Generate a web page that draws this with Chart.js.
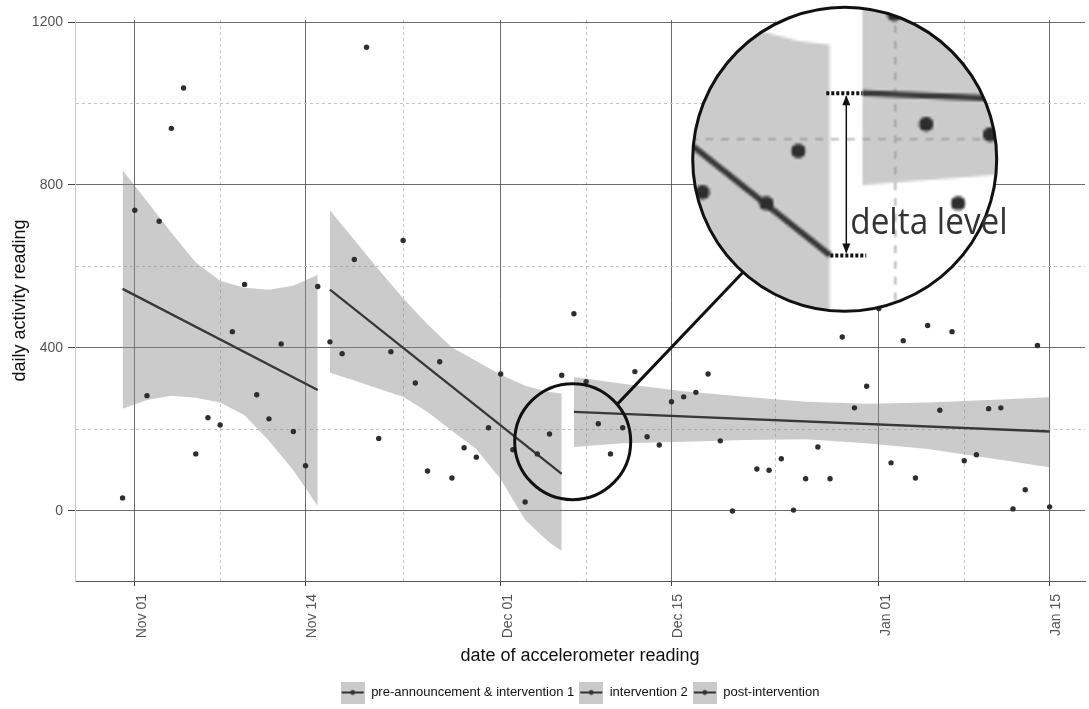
<!DOCTYPE html>
<html>
<head>
<meta charset="utf-8">
<script src="https://cdn.jsdelivr.net/npm/chart.js@4.4.1/dist/chart.umd.min.js"></script>
<style>
  html, body { margin: 0; padding: 0; background: #fff; }
  #wrap { width: 1089px; height: 709px; }
</style>
</head>
<body>
<div id="wrap"><canvas id="chart"></canvas></div>
<script>
// x values are days counted from Nov 01

const tickDays = [0, 14, 30, 44, 61, 75];
const tickLabels = ['Nov 01', 'Nov 14', 'Dec 01', 'Dec 15', 'Jan 01', 'Jan 15'];
const minorDays = [7, 22, 37, 52.5, 68];
const yMajor = [0, 400, 800, 1200];
const yMinor = [200, 600, 1000];

// daily readings
const pointDays = [-1, 0, 1, 2, 3, 4, 5, 6, 7, 8, 9, 10, 11, 12, 13, 14, 15,
  16, 17, 18, 19, 20, 21, 22, 23, 24, 25, 26, 27, 28, 29, 30, 31, 32, 33, 34, 35,
  36, 37, 38, 39, 40, 41, 42, 43, 44, 45, 46, 47, 48, 49, 51, 52, 53, 54, 55, 56,
  57, 58, 59, 60, 61, 62, 63, 64, 65, 66, 67, 68, 69, 70, 71, 72, 73, 74, 75];
const pointValues = [32, 738, 283, 711, 939, 1038, 140, 229, 211, 440, 556, 285, 226, 410, 195, 111, 551,
  415, 386, 617, 1138, 178, 391, 664, 314, 98, 366, 81, 155, 132, 204, 336, 150, 22, 140, 189, 333,
  484, 317, 214, 140, 204, 342, 182, 162, 268, 280, 291, 336, 172, 0, 103, 100, 128, 2, 79, 157,
  79, 427, 253, 306, 497, 118, 418, 81, 455, 247, 440, 123, 138, 251, 253, 5, 52, 406, 10];

// fitted lines, one per period
const seriesNames = ['pre-announcement & intervention 1', 'intervention 2', 'post-intervention'];
const fitDays = [[-1, 15], [16, 35], [36, 75]];
const fitValues = [[545, 297], [543, 91], [243, 195]];

// confidence bands
const band1Days = [-1, 1, 3, 5, 7, 9, 11, 13, 15];
const band1Low = [251, 272, 283, 278, 266, 235, 172, 100, 12];
const band1High = [836, 760, 683, 610, 565, 548, 543, 553, 580];
const band2Days = [16, 18, 20, 22, 24, 26, 28, 30, 32, 34, 35];
const band2Low = [339, 320, 300, 280, 243, 197, 152, 78, -22, -78, -98];
const band2High = [738, 665, 592, 522, 458, 401, 368, 334, 307, 292, 288];
const band3Days = [36, 40, 45, 50, 55, 60, 65, 70, 75];
const band3Low = [157, 166, 170, 174, 176, 166, 152, 130, 107];
const band3High = [329, 312, 294, 280, 268, 263, 266, 272, 279];

// magnifier annotation
const lensSource = [35.45, 181];
const lensCenter = [58.2, 863];
const lensRadius = 152;
const lensZoom = 2.62;
const ringCenter = [35.9, 170];
const ringRadius = 58;
const deltaLabel = 'delta level';

Chart.defaults.font.family = "'Liberation Sans', Arial, sans-serif";

const majorGrid = 'rgba(70,70,70,0.8)';
const minorGrid = '#c4c4c4';
const bandFill = 'rgba(140,140,140,0.45)';
const markColor = '#2e2e2e';

const datasets = [];
datasets.push({
  type: 'scatter',
  label: 'readings',
  data: pointDays.map((d, i) => ({ x: d, y: pointValues[i] })),
  pointRadius: 2.7,
  pointBackgroundColor: markColor,
  pointBorderWidth: 0,
  order: 0
});
fitDays.forEach((days, k) => {
  datasets.push({
    type: 'line',
    label: seriesNames[k],
    data: days.map((d, i) => ({ x: d, y: fitValues[k][i] })),
    borderColor: '#383838',
    borderWidth: 2.3,
    pointRadius: 0,
    fill: false,
    order: 1
  });
});
[[band1Days, band1Low, band1High], [band2Days, band2Low, band2High], [band3Days, band3Low, band3High]]
  .forEach(([days, low, high]) => {
    const lowIndex = datasets.length;
    datasets.push({
      type: 'line', label: '', data: days.map((d, i) => ({ x: d, y: low[i] })),
      borderWidth: 0, pointRadius: 0, fill: false, order: 2
    });
    datasets.push({
      type: 'line', label: '', data: days.map((d, i) => ({ x: d, y: high[i] })),
      borderWidth: 0, pointRadius: 0, backgroundColor: bandFill,
      fill: { target: lowIndex }, order: 2
    });
  });

function legendIcon() {
  const c = document.createElement('canvas');
  c.width = 24; c.height = 22;
  const g = c.getContext('2d');
  g.fillStyle = '#cacaca';
  g.fillRect(0, 0, 24, 22);
  g.strokeStyle = '#333';
  g.lineWidth = 2;
  g.beginPath(); g.moveTo(1, 11); g.lineTo(23, 11); g.stroke();
  g.fillStyle = '#333';
  g.beginPath(); g.arc(12, 11, 2.4, 0, Math.PI * 2); g.fill();
  return c;
}
const icon = legendIcon();

const isMajorX = v => tickDays.includes(v);
const isMajorY = v => yMajor.includes(v);

// Draws the enlarged view of the gap between periods
const magnifier = {
  id: 'magnifier',
  afterDraw(chart) {
    const { ctx, canvas } = chart;
    const x = chart.scales.x, y = chart.scales.y;
    const dpr = chart.currentDevicePixelRatio;
    const sx = x.getPixelForValue(lensSource[0]), sy = y.getPixelForValue(lensSource[1]);
    const bx = x.getPixelForValue(lensCenter[0]), by = y.getPixelForValue(lensCenter[1]);
    const R = lensRadius, m = lensZoom, r = R / m;
    const toLens = (px, py) => [bx + (px - sx) * m, by + (py - sy) * m];

    ctx.save();
    ctx.beginPath();
    ctx.arc(bx, by, R, 0, Math.PI * 2);
    ctx.clip();
    ctx.fillStyle = '#fff';
    ctx.fillRect(bx - R, by - R, 2 * R, 2 * R);
    ctx.imageSmoothingEnabled = true;
    ctx.imageSmoothingQuality = 'high';
    ctx.drawImage(canvas, (sx - r) * dpr, (sy - r) * dpr, 2 * r * dpr, 2 * r * dpr,
      bx - R, by - R, 2 * R, 2 * R);
    ctx.restore();

    // level markers at the end of period 2 and start of period 3
    const endA = toLens(x.getPixelForValue(fitDays[1][1]), y.getPixelForValue(fitValues[1][1]));
    const startB = toLens(x.getPixelForValue(fitDays[2][0]), y.getPixelForValue(fitValues[2][0]));
    const ax = (endA[0] + startB[0]) / 2;
    ctx.save();
    ctx.strokeStyle = '#111';
    ctx.lineWidth = 4;
    ctx.setLineDash([3, 2]);
    ctx.beginPath();
    ctx.moveTo(ax - 20, startB[1]); ctx.lineTo(startB[0], startB[1]);
    ctx.moveTo(endA[0], endA[1]); ctx.lineTo(ax + 20, endA[1]);
    ctx.stroke();
    ctx.setLineDash([]);
    ctx.lineWidth = 1.5;
    ctx.beginPath();
    ctx.moveTo(ax, startB[1] + 3); ctx.lineTo(ax, endA[1] - 3);
    ctx.stroke();
    ctx.fillStyle = '#111';
    ctx.beginPath();
    ctx.moveTo(ax, startB[1] + 2); ctx.lineTo(ax - 4, startB[1] + 12); ctx.lineTo(ax + 4, startB[1] + 12);
    ctx.closePath(); ctx.fill();
    ctx.beginPath();
    ctx.moveTo(ax, endA[1] - 2); ctx.lineTo(ax - 4, endA[1] - 12); ctx.lineTo(ax + 4, endA[1] - 12);
    ctx.closePath(); ctx.fill();
    ctx.restore();

    // circles and connector
    const cx = x.getPixelForValue(ringCenter[0]), cy = y.getPixelForValue(ringCenter[1]);
    ctx.save();
    ctx.strokeStyle = '#111';
    ctx.lineWidth = 3;
    ctx.beginPath(); ctx.arc(bx, by, R, 0, Math.PI * 2); ctx.stroke();
    ctx.beginPath(); ctx.arc(cx, cy, ringRadius, 0, Math.PI * 2); ctx.stroke();
    const a1 = -40 * Math.PI / 180, a2 = 132 * Math.PI / 180;
    ctx.beginPath();
    ctx.moveTo(cx + ringRadius * Math.cos(a1), cy + ringRadius * Math.sin(a1));
    ctx.lineTo(bx + R * Math.cos(a2), by + R * Math.sin(a2));
    ctx.stroke();
    ctx.restore();

    ctx.save();
    ctx.fillStyle = '#333';
    ctx.font = "37px 'Open Sans', sans-serif";
    ctx.textBaseline = 'alphabetic';
    ctx.translate(ax + 4, endA[1] - 21);
    ctx.scale(0.9, 1);
    ctx.fillText(deltaLabel, 0, 0);
    ctx.restore();
  }
};

new Chart(document.getElementById('chart'), {
  type: 'line',
  data: { datasets },
  plugins: [magnifier],
  options: {
    responsive: true,
    maintainAspectRatio: false,
    animation: false,
    layout: { padding: { top: 20, right: 0, bottom: 0, left: 0 } },
    plugins: {
      tooltip: { enabled: false },
      legend: {
        position: 'bottom',
        fullSize: false,
        labels: {
          usePointStyle: true,
          pointStyleWidth: 24,
          padding: 5,
          color: '#111',
          font: { size: 13 },
          generateLabels: () => seriesNames.map((t, i) => ({
            text: t, pointStyle: icon, fillStyle: '#cacaca', strokeStyle: '#333',
            lineWidth: 0, hidden: false, datasetIndex: i + 1, fontColor: '#111'
          }))
        }
      }
    },
    scales: {
      x: {
        type: 'linear',
        min: -4.9,
        max: 77.9,
        afterBuildTicks: s => {
          s.ticks = tickDays.concat(minorDays).sort((a, b) => a - b).map(v => ({ value: v }));
        },
        afterFit: s => { s.height = 100; },
        ticks: {
          autoSkip: false,
          minRotation: 90,
          maxRotation: 90,
          padding: 8,
          labelOffset: 7,
          color: '#555',
          font: { size: 14 },
          callback: v => { const i = tickDays.indexOf(v); return i < 0 ? '' : tickLabels[i]; }
        },
        grid: {
          color: c => (c.tick && !isMajorX(c.tick.value)) ? minorGrid : majorGrid,
          tickColor: c => (c.tick && isMajorX(c.tick.value)) ? '#444' : 'rgba(0,0,0,0)',
          tickLength: 5,
          lineWidth: 1
        },
        border: {
          color: '#555',
          dash: c => (c.tick && !isMajorX(c.tick.value)) ? [3, 3] : []
        },
        title: {
          display: true,
          text: 'date of accelerometer reading',
          color: '#111',
          font: { size: 18 },
          padding: { top: 4, bottom: 14 }
        }
      },
      y: {
        type: 'linear',
        min: -172,
        max: 1205,
        afterBuildTicks: s => {
          s.ticks = yMajor.concat(yMinor).sort((a, b) => a - b).map(v => ({ value: v }));
        },
        afterFit: s => { s.width = 75; },
        ticks: {
          padding: 5,
          color: '#555',
          font: { size: 14 },
          callback: v => isMajorY(v) ? String(v) : ''
        },
        grid: {
          color: c => (c.tick && !isMajorY(c.tick.value)) ? minorGrid : majorGrid,
          tickColor: c => (c.tick && isMajorY(c.tick.value)) ? '#444' : 'rgba(0,0,0,0)',
          tickLength: 7,
          lineWidth: 1
        },
        border: {
          color: '#c8c8c8',
          dash: c => (c.tick && !isMajorY(c.tick.value)) ? [3, 3] : []
        },
        title: {
          display: true,
          text: 'daily activity reading',
          color: '#111',
          font: { size: 18 },
          padding: { top: 9, bottom: 4 }
        }
      }
    }
  }
});
</script>
</body>
</html>
